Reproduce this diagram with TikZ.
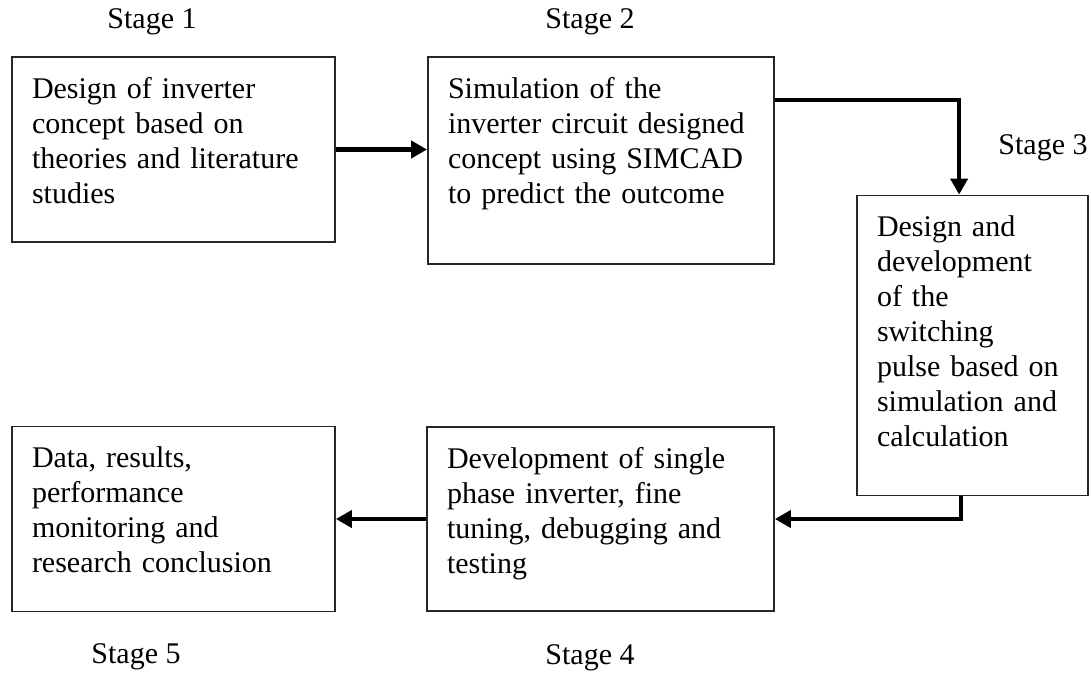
\documentclass[tikz,border=0pt]{standalone}
\usepackage{fontspec}
\setmainfont{Liberation Serif}
\usepackage{xcolor}
\usepackage{tikz}
\usetikzlibrary{arrows.meta, positioning, calc}

\begin{document}
\begin{tikzpicture}[
    x=1pt, y=-1pt,
    every node/.style={font=\fontsize{30}{35}\selectfont},
    stagebox/.style={rectangle, draw=black!85, line width=1.8pt, align=left,
                     inner xsep=20pt, inner ysep=21pt, text height=20pt},
    arrow/.style={-{Triangle[length=16pt, width=17pt]}, line width=4.5pt, draw=black},
    lbl/.style={inner sep=0pt}
]
\useasboundingbox (0,0) rectangle (1091,675);

% === Top row: Stage 1 and Stage 2 ===
\node[stagebox, text width=283pt, text depth=123pt] (design) at (173.5,149.5)
    {Design of inverter\\
     concept based on\\
     theories and literature\\
     studies};

\node[stagebox, text width=306pt, text depth=145pt] (simul) at (601,160.5)
    {Simulation of the\\
     inverter circuit designed\\
     concept using SIMCAD\\
     to predict the outcome};

\draw[arrow] (design.east) -- (simul.west |- design.east);

% === Right column: Stage 3 ===
\node[stagebox, text width=191pt, text depth=238pt] (pulse) at (972.5,345.5)
    {Design and\\
     development\\
     of the\\
     switching\\
     pulse based on\\
     simulation and\\
     calculation};

\draw[arrow] ([yshift=-44pt]simul.north east) -| ([xshift=103pt]pulse.north west);

% === Bottom row: Stage 4 and Stage 5 ===
\node[stagebox, text width=307pt, text depth=122pt] (devel) at (600.5,519)
    {Development of single\\
     phase inverter, fine\\
     tuning, debugging and\\
     testing};

\node[stagebox, text width=283pt, text depth=123pt] (results) at (173.5,519)
    {Data, results,\\
     performance\\
     monitoring and\\
     research conclusion};

\draw[arrow] ([xshift=105pt]pulse.south west) |- (devel.east);
\draw[arrow] (devel.west) -- (results.east);

% Stage labels
\node[lbl] (st1) at (152,22) {Stage 1};
\node[lbl] (st2) at (590,22) {Stage 2};
\node[lbl] (st3) at (1043,148) {Stage 3};
\node[lbl] (st4) at (590,658) {Stage 4};
\node[lbl] (st5) at (136,657) {Stage 5};

\end{tikzpicture}
\end{document}
